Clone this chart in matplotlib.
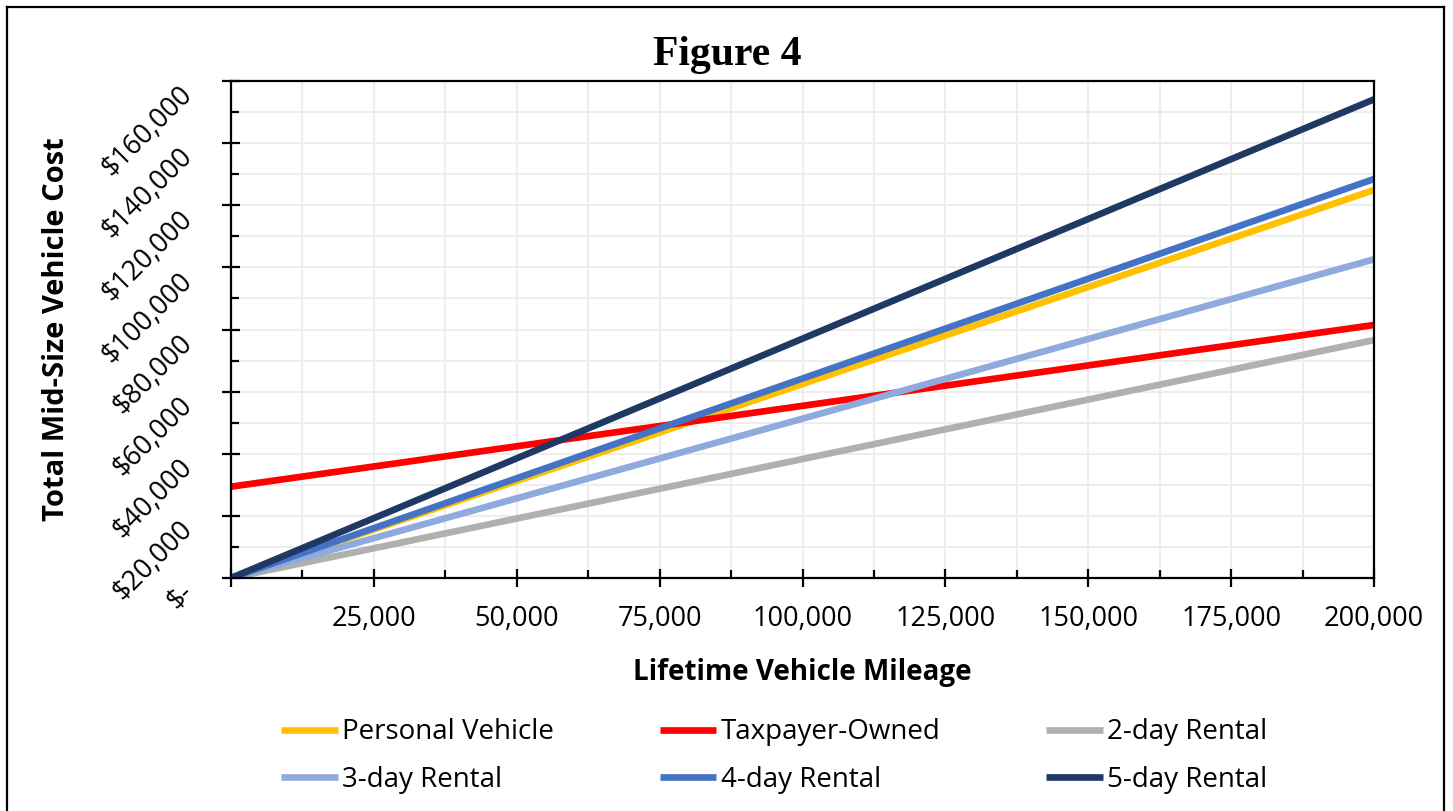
import numpy as np
import matplotlib
matplotlib.use('Agg')
import matplotlib.pyplot as plt
from matplotlib.ticker import MultipleLocator, FuncFormatter
from matplotlib.lines import Line2D

plt.rcParams['font.family'] = ['Open Sans', 'DejaVu Sans']

# data (lifetime mileage vs total cost)
mileage = [0, 200000]
personal_vehicle = [0, 124900]
taxpayer_owned = [29400, 81450]
rental_2day = [0, 76600]
rental_3day = [0, 102600]
rental_4day = [0, 128450]
rental_5day = [0, 154100]

series_names = ['Personal Vehicle', 'Taxpayer-Owned', '2-day Rental',
                '3-day Rental', '4-day Rental', '5-day Rental']
series_values = [personal_vehicle, taxpayer_owned, rental_2day,
                 rental_3day, rental_4day, rental_5day]
series_colors = ['#FFC000', '#FF0000', '#B0B0B0', '#8FAADC', '#4472C4', '#1F3864']

fig = plt.figure(figsize=(14.53, 8.11), dpi=100)
ax = fig.add_axes([231 / 1453, 1 - 578 / 811, (1374 - 231) / 1453, (578 - 81) / 811])

lines = []
for name, vals, col in zip(series_names, series_values, series_colors):
    ln, = ax.plot(mileage, vals, color=col, lw=4.8, label=name, solid_capstyle='butt')
    lines.append(ln)

ax.set_xlim(0, 200000)
ax.set_ylim(0, 160000)

ax.xaxis.set_major_locator(MultipleLocator(25000))
ax.xaxis.set_minor_locator(MultipleLocator(12500))
ax.yaxis.set_major_locator(MultipleLocator(20000))
ax.yaxis.set_minor_locator(MultipleLocator(10000))

ax.xaxis.set_major_formatter(FuncFormatter(lambda v, p: '' if v == 0 else f'{int(v):,}'))
ax.yaxis.set_major_formatter(FuncFormatter(lambda v, p: '$-' if v == 0 else f'${int(v):,}'))

ax.grid(which='both', color='#EDEDED', lw=1.5, zorder=0)
ax.set_axisbelow(True)

for s in ax.spines.values():
    s.set_color('black')
    s.set_linewidth(1.6)

ax.tick_params(which='major', direction='inout', length=13, width=1.6, labelsize=19.5,
               colors='black')
ax.tick_params(which='minor', direction='in', length=6, width=1.6)
ax.tick_params(axis='x', which='major', pad=13)
ax.tick_params(axis='y', which='major', pad=17)

for lbl in ax.get_yticklabels():
    lbl.set_rotation(45)
    lbl.set_ha('right')
    lbl.set_va('top')

ax.set_xlabel('Lifetime Vehicle Mileage', fontsize=20, fontweight='bold', labelpad=18)
ax.set_ylabel('Total Mid-Size Vehicle Cost', fontsize=21, fontweight='bold')
ax.yaxis.set_label_coords(-0.14, 0.5)

fig.text(727 / 1453, 1 - 55 / 811, 'Figure 4', family=['Liberation Serif'], fontsize=30,
         fontweight='bold', ha='center', va='center')

# legend order: matplotlib fills column-wise
order = [0, 3, 1, 4, 2, 5]
fig.legend([lines[i] for i in order], [series_names[i] for i in order], ncol=3,
           loc='center left', bbox_to_anchor=(256 / 1453, 1 - 756 / 811),
           frameon=False, fontsize=20, handlelength=2.05, handletextpad=0.15,
           columnspacing=3.8, labelspacing=0.7)

# outer frame (bottom edge is cut off in the original)
for xs, ys in [([7, 7], [811, 7]), ([7, 1444], [7, 7]), ([1444, 1444], [7, 811])]:
    fig.add_artist(Line2D([x / 1453 for x in xs], [1 - y / 811 for y in ys],
                          color='black', lw=1.6))

plt.savefig('out.png', dpi=100)
plt.close()
